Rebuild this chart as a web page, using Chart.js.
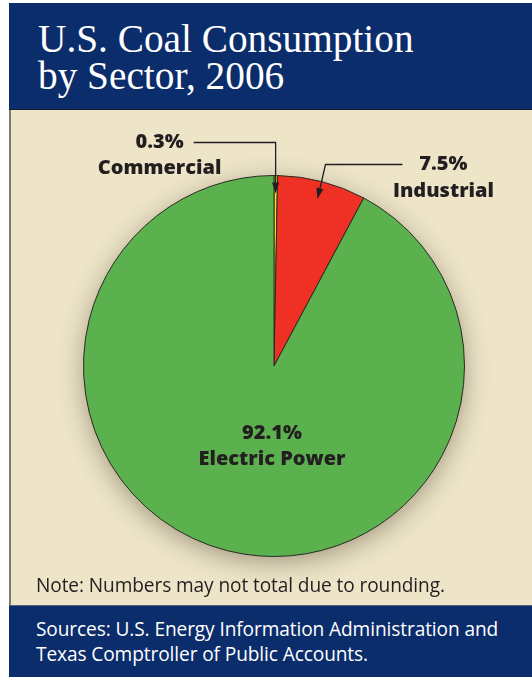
<!DOCTYPE html>
<html>
<head>
<meta charset="utf-8">
<script src="https://cdn.jsdelivr.net/npm/chart.js@4"></script>
<style>
  html, body { margin: 0; padding: 0; background: #ffffff; }
  body { width: 532px; height: 677px; position: relative; overflow: hidden; }
  #header {
    position: absolute; left: 9px; top: 3px; width: 523px; height: 107px;
    background: #0b2d6b; border-bottom: 1px solid #1c1c2c; box-sizing: border-box;
  }
  #header h1 {
    margin: 0; position: absolute; left: 29px; top: 18px;
    font: 39.3px/37px "Liberation Serif", "DejaVu Serif", serif; color: #ffffff; font-weight: normal;
  }
  #panel {
    position: absolute; left: 9px; top: 110px; width: 523px; height: 495px;
    background: #eee5c9; border-left: 2px solid #7d7a72; box-sizing: border-box;
  }
  #chart-wrap { position: absolute; left: 9px; top: 110px; width: 523px; height: 495px; }
  #note {
    position: absolute; left: 36px; top: 572px;
    font: 19.1px "Open Sans", "Noto Sans", sans-serif; letter-spacing: -0.1px; color: #231f20;
  }
  #footer {
    position: absolute; left: 9px; top: 605px; width: 523px; height: 72px;
    background: #0b2d6b; border-top: 1px solid #55607a; box-sizing: border-box;
  }
  #footer p {
    margin: 0; position: absolute; left: 27px; top: 11px;
    font: 19.1px/25px "Open Sans", "Noto Sans", sans-serif; letter-spacing: -0.1px; color: #ffffff;
  }
</style>
</head>
<body>
<div id="header"><h1>U.S. Coal Consumption<br>by Sector, 2006</h1></div>
<div id="panel"></div>
<div id="chart-wrap"><canvas id="pie"></canvas></div>
<div id="note">Note: Numbers may not total due to rounding.</div>
<div id="footer"><p>Sources: U.S. Energy Information Administration and<br>Texas Comptroller of Public Accounts.</p></div>

<script>
const sectors  = ["Commercial", "Industrial", "Electric Power"];
const shares   = [0.3, 7.5, 92.1];
const pctLabels = ["0.3%", "7.5%", "92.1%"];
const colors   = ["#f6e21c", "#ee3124", "#5cb14f"];

const INK = "#231f20";
const LABEL_FONT = "800 20px 'Open Sans', 'Noto Sans', sans-serif";

// soft drop shadow under the pie
const shadowPlugin = {
  id: "pieShadow",
  beforeDatasetsDraw(chart) {
    const arc = chart.getDatasetMeta(0).data[0];
    if (!arc) return;
    const { ctx } = chart;
    ctx.save();
    ctx.shadowColor = "rgba(60,50,30,0.45)";
    ctx.shadowBlur = 26;
    ctx.shadowOffsetY = 6;
    ctx.fillStyle = "#5cb14f";
    ctx.beginPath();
    ctx.arc(arc.x, arc.y, arc.outerRadius - 1, 0, Math.PI * 2);
    ctx.fill();
    ctx.restore();
  }
};

function arrowTo(ctx, fx, fy, tx, ty) {
  const a = Math.atan2(ty - fy, tx - fx);
  const L = 11, W = 3.6;
  ctx.beginPath();
  ctx.moveTo(tx, ty);
  ctx.lineTo(tx - L * Math.cos(a) + W * Math.sin(a), ty - L * Math.sin(a) - W * Math.cos(a));
  ctx.lineTo(tx - L * Math.cos(a) - W * Math.sin(a), ty - L * Math.sin(a) + W * Math.cos(a));
  ctx.closePath();
  ctx.fill();
}

// point inside a slice at its mid angle, dr pixels inside the rim
function midPoint(arc, dr) {
  const mid = (arc.startAngle + arc.endAngle) / 2;
  const r = arc.outerRadius - dr;
  return { x: arc.x + r * Math.cos(mid), y: arc.y + r * Math.sin(mid) };
}

const labelPlugin = {
  id: "sectorLabels",
  afterDraw(chart) {
    const { ctx } = chart;
    const arcs = chart.getDatasetMeta(0).data;
    ctx.save();
    ctx.strokeStyle = INK;
    ctx.fillStyle = INK;
    ctx.lineWidth = 1.3;
    ctx.font = LABEL_FONT;
    ctx.textAlign = "center";
    ctx.textBaseline = "alphabetic";

    // Commercial: elbow line from the left
    const c = arcs[0];
    const cTip = midPoint(c, 18);
    const cY = c.y - c.outerRadius - 33;
    ctx.beginPath();
    ctx.moveTo(cTip.x - 82, cY);
    ctx.lineTo(cTip.x, cY);
    ctx.lineTo(cTip.x, cTip.y - 4);
    ctx.stroke();
    arrowTo(ctx, cTip.x, cY, cTip.x, cTip.y);
    ctx.fillText(pctLabels[0], cTip.x - 116, cY + 5);
    ctx.fillText(sectors[0], cTip.x - 116, cY + 31);

    // Industrial: elbow line from the right
    const i = arcs[1];
    const iTip = midPoint(i, 18);
    const iY = i.y - i.outerRadius - 11;
    const ex = iTip.x + 8;
    ctx.beginPath();
    ctx.moveTo(ex + 77, iY);
    ctx.lineTo(ex, iY);
    ctx.lineTo(iTip.x + 1, iTip.y - 4);
    ctx.stroke();
    arrowTo(ctx, ex, iY, iTip.x, iTip.y);
    ctx.fillText(pctLabels[1], ex + 118, iY + 5);
    ctx.fillText(sectors[1], ex + 118, iY + 32);

    // Electric Power: inside the slice, below the centre
    const e = arcs[2];
    ctx.fillText(pctLabels[2], e.x - 2, e.y + 73);
    ctx.fillText(sectors[2], e.x - 2, e.y + 99);
    ctx.restore();
  }
};

new Chart(document.getElementById("pie"), {
  type: "pie",
  data: {
    labels: sectors,
    datasets: [{
      data: shares,
      backgroundColor: colors,
      borderColor: "#2a2a22",
      borderWidth: 1,
    }]
  },
  options: {
    responsive: true,
    maintainAspectRatio: false,
    animation: false,
    layout: { padding: { left: 74, right: 67, top: 65, bottom: 48 } },
    plugins: {
      legend: { display: false },
      tooltip: { enabled: false },
    }
  },
  plugins: [shadowPlugin, labelPlugin],
});
</script>
</body>
</html>
